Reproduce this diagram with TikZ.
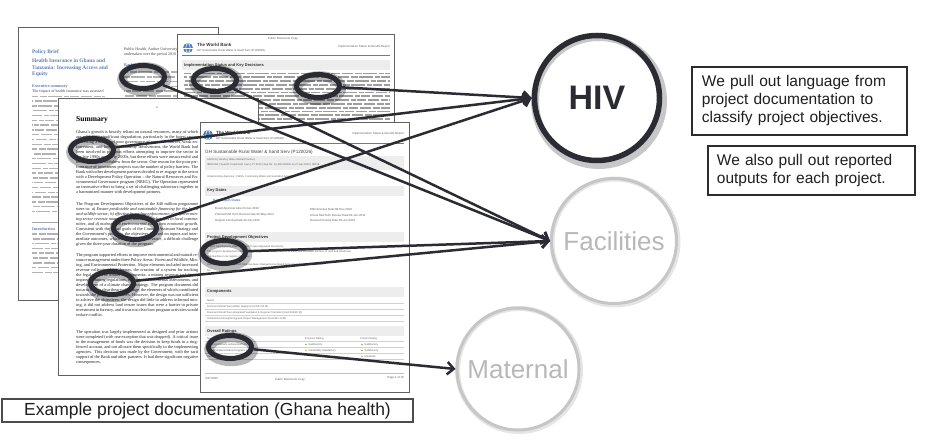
\documentclass[tikz,border=0pt]{standalone}
\usepackage{fontspec}
\setmainfont{Liberation Serif}
\setsansfont{Liberation Sans}
\usetikzlibrary{shapes.geometric,arrows.meta}
\definecolor{ink}{HTML}{2B2B33}
\definecolor{pbblue}{HTML}{5B7DB1}
\definecolor{wbblue}{HTML}{4F81BD}
\definecolor{ringgray}{HTML}{C6C6C6}
\definecolor{labgray}{HTML}{B8B8B8}
\definecolor{bandgray}{HTML}{EDEDED}
\definecolor{okgreen}{HTML}{7AB648}
\definecolor{modorange}{HTML}{E8A33D}
\tikzset{
  sheet/.style={draw=black!62, line width=0.8pt, fill=white},
  words/.style={line width=1.5pt, black!30, dash pattern=on 11pt off 1.6pt on 7pt off 1.6pt on 14pt off 1.6pt on 5pt off 1.6pt on 9pt off 1.6pt},
  dense/.style={words, line width=1.8pt, black!38},
  tiny/.style={anchor=west, inner sep=0pt, font=\sffamily\fontsize{2.9}{3.4}\selectfont, text=black!62},
  tinyb/.style={anchor=west, inner sep=0pt, font=\sffamily\bfseries\fontsize{4}{4.6}\selectfont, text=black!80},
  sm/.style={anchor=west, inner sep=0pt, font=\sffamily\fontsize{2.6}{3}\selectfont, text=black!62},
  serifsm/.style={anchor=west, inner sep=0pt, font=\fontsize{4}{5}\selectfont, text=black!75},
  bluehead/.style={anchor=west, inner sep=0pt, font=\bfseries\fontsize{4.2}{5}\selectfont, text=pbblue},
  band/.style={fill=bandgray, draw=none},
  para/.style={anchor=north west, inner sep=0pt, text width=122pt, align=justify, font=\fontsize{4.3}{5.05}\selectfont, text=black!88},
  hl/.style={ellipse, draw=ink, line width=5pt, minimum width=43pt, minimum height=23pt, inner sep=0pt},
  hlshadow/.style={draw=black, opacity=0.28, line width=10pt},
  arr/.style={draw=ink, line width=2.5pt, -{Straight Barb[length=6.5pt,width=12.5pt]}},
  topic/.style={circle, minimum size=125pt, inner sep=0pt, font=\sffamily\fontsize{26}{26}\selectfont},
  note/.style={draw=ink, line width=1.8pt, anchor=north west, align=left, font=\sffamily\fontsize{15.5}{18}\selectfont, text=black!88},
}
\newcommand\wbglobe[2]{%
  \fill[wbblue] (#1,#2) circle[radius=5pt];
  \draw[white, line width=0.5pt] (#1,#2) ellipse[x radius=2.2pt, y radius=4.6pt];
  \draw[white, line width=0.5pt] (#1-4.6,#2) -- (#1+4.6,#2);
}
\newcommand\hlmark[3]{%
  \draw[hlshadow] (#2+1.2,#3+2.2) ellipse[x radius=22pt, y radius=12pt];
  \node[hl] (#1) at (#2,#3) {};
}
\begin{document}
\begin{tikzpicture}[x=1pt, y=-1pt]
\useasboundingbox[fill=white] (0,0) rectangle (925,441);

% ---------- page 1: policy brief ----------
\draw[sheet] (18,27) rectangle (218,300);
\node[anchor=west, inner sep=0pt, font=\bfseries\fontsize{5.3}{6}\selectfont, text=pbblue] (pbA) at (32,52) {Policy Brief};
\node[anchor=north west, inner sep=0pt, align=left, font=\bfseries\fontsize{5.4}{6.5}\selectfont, text=pbblue] (pbB) at (32,59) {Health Insurance in Ghana and\\Tanzania: Increasing Access and\\Equity};
\node[bluehead] (pbC) at (32,86) {Executive summary};
\node[serifsm] (pbD) at (32,91.5) {The impact of health insurance was assessed};
\foreach \y [count=\i] in {96.3,101.1,...,216} \draw[words, dash phase=\i*5pt] (32,\y) -- (105,\y);
\draw[black!35, line width=0.6pt] (32,222) -- (105,222);
\node[bluehead] (pbE) at (32,229) {Introduction};
\foreach \y [count=\i] in {234,238.8,...,273} \draw[words, dash phase=\i*6pt] (32,\y) -- (105,\y);
\node[serifsm] (pbF) at (124,50) {Public Health, Author University};
\node[serifsm] (pbG) at (124,55) {undertaken over the period 2010};
\node[bluehead] (pbH) at (124,66) {Background};
\foreach \y [count=\i] in {72,76.8,...,97} \draw[words, dash phase=\i*7pt] (124,\y) -- (214,\y);

% ---------- page 2: World Bank (back) ----------
\draw[sheet] (177,34) rectangle (394,125);
\node[tiny, anchor=center] (p2a) at (283,39) {Public Disclosure Copy};
\wbglobe{188}{48}
\node[tinyb, font=\sffamily\bfseries\fontsize{4.5}{5}\selectfont] (p2b) at (197,45) {The World Bank};
\node[tiny] (p2c) at (197,50.5) {GH Sustainable Rural Water \& Sanit Serv (P120026)};
\node[tiny, anchor=east] (p2d) at (390,47) {Implementation Status \& Results Report};
\draw[wbblue, line width=1pt] (182,56) -- (390,56);
\fill[band] (182,60) rectangle (390,70);
\node[tinyb] (p2e) at (184,65) {Implementation Status and Key Decisions};
\foreach \y [count=\i] in {73.5,77.3,...,123} \draw[dense, dash phase=\i*4pt] (184,\y) -- (390,\y);

% ---------- page 3: Summary ----------
\draw[sheet] (58,98) rectangle (258,375);
\node[tiny, anchor=center] (p3a) at (157,107) {ix};
\node[anchor=west, inner sep=0pt, font=\bfseries\fontsize{7.5}{8}\selectfont] (p3b) at (76,120) {Summary};
\node[para] (p3c) at (76,130) {Ghana's growth is heavily reliant on natural resources, many of which are subject to significant degradation, particularly in the forest sector. Reflecting a history of poor governance of natural resources, weak enforcement, and limited community involvement, the World Bank had been involved in previous efforts attempting to improve the sector in the late 1990s and early 2000s, but these efforts were unsuccessful and the World Bank withdrew from the sector. One reason for the poor performance of investment projects was the number of policy barriers. The Bank with other development partners decided to re-engage in the sector with a Development Policy Operation -- the Natural Resources and Environmental Governance program (NREG). The Operation represented an innovative effort to bring a set of challenging subsectors together in a harmonized manner with development partners.};
\node[para] (p3d) at (76,202) {The Program Development Objectives of the \$40 million programme were to: \emph{a) Ensure predictable and sustainable financing for the forest and wildlife sector; b) effective forest law enforcement; c) improve mining sector revenue management, and increase benefits to local communities, and d) mainstream environmental issues into economic growth.} Consistent with the broad goals of the Country Assistant Strategy and the Government's program, the objectives focused on inputs and intermediate outcomes, which reduced their relevance, a difficult challenge given the three-year duration of the program.};
\node[para] (p3e) at (76,253) {The program supported efforts to improve environmental and natural resource management under three Policy Areas: Forest and Wildlife, Mining, and Environmental Protection. Major elements included increased revenue collection from forests, the creation of a system for tracking the legal origin of timber consignments, a mining revenue task force, improved mining regulations, strategic environmental assessments, and development of a climate change strategy. The program document did not articulate a clear theory of change, the elements of which contributed towards the program objectives. However, the design was not sufficient to achieve the objectives: the design did little to address informal mining, it did not address land tenure issues that were a barrier to private investment in forestry, and it was not clear how program activities would reduce conflict.};
\node[para] (p3f) at (76,330) {The operation was largely implemented as designed and prior actions were completed (with one exception that was dropped). A critical issue in the management of funds was the decision to keep funds in a ring-fenced account, and not allocate them specifically to the implementing agencies. This decision was made by the Government, with the tacit support of the Bank and other partners. It had three significant negative consequences.};

% ---------- page 4: World Bank (front) ----------
\draw[sheet] (200,122) rectangle (409,392);
\wbglobe{208}{135}
\node[tinyb, font=\sffamily\bfseries\fontsize{4.5}{5}\selectfont] (p4a) at (216,132.5) {The World Bank};
\node[tiny] (p4b) at (216,138.5) {GH Sustainable Rural Water \& Sanit Serv (P120026)};
\node[tiny, anchor=east] (p4c) at (404,134) {Implementation Status \& Results Report};
\draw[wbblue, line width=1pt] (205,143) -- (404,143);
\node[anchor=west, inner sep=0pt, font=\sffamily\fontsize{4.6}{5}\selectfont, text=black!75] (p4d) at (205,152) {GH Sustainable Rural Water \& Sanit Serv (P120026)};
\fill[band] (205,156) rectangle (404,170);
\node[sm] (p4e) at (207,160) {AFRICA | Ghana | Water Global Practice |};
\node[sm] (p4f) at (207,165) {IBRD/IDA | Specific Investment Loan | FY 2010 | Seq No: 8 | ARCHIVED on 27-Apr-2015 | ISR18};
\node[sm] (p4g) at (207,177) {Implementing Agencies: CWSA, Community Water and Sanitation Agency};
\fill[band] (205,186) rectangle (404,196);
\node[tinyb] (p4h) at (207,191) {Key Dates};
\node[tiny, font=\sffamily\bfseries\fontsize{3.2}{3.6}\selectfont, text=wbblue] (p4i) at (213,201) {Key Project Dates};
\node[tiny] (p4j) at (215,209) {Board Approval date:23-Jun-2010};
\node[tiny] (p4k) at (310,209) {Effectiveness Date:08-Dec-2010};
\node[tiny] (p4l) at (215,215) {Planned Mid Term Review Date:20-May-2014};
\node[tiny] (p4m) at (310,215) {Actual Mid-Term Review Date:04-Jun-2014};
\node[tiny] (p4n) at (215,221) {Original Closing Date:30-Jun-2016};
\node[tiny] (p4o) at (310,221) {Revised Closing Date:30-Jun-2016};
\fill[band] (205,232) rectangle (404,242);
\node[tinyb] (p4p) at (207,237) {Project Development Objectives};
\node[sm] (p4q) at (207,246.5) {Project Development Objective (from Project Appraisal Document)};
\node[sm] (p4r) at (207,251.5) {The project's development objective is to increase sustainable access to water and sanitation services in rural and small town};
\node[sm] (p4s) at (207,256.5) {communities in six regions of Ghana.};
\node[sm] (p4t) at (207,265) {Has the Project Development Objective been changed since Board Approval of the Project Objective?};
\node[sm] (p4u) at (207,270.5) {No};
\fill[band] (205,287) rectangle (404,297);
\node[tinyb] (p4v) at (207,292) {Components};
\node[sm] (p4w) at (207,301) {Name};
\foreach \y in {303.5,309.5,315.5,321.5} \draw[black!18, line width=0.4pt] (205,\y) -- (404,\y);
\node[sm] (p4x) at (207,306.5) {Rural and Small Town Water Supply:(Cost \$47.60 M)};
\node[sm] (p4y) at (207,312.5) {Rural and Small Town Integrated Sanitation \& Hygiene Promotion:(Cost \$18.80 M)};
\node[sm] (p4z) at (207,318.5) {Institutional Strengthening and Project Management:(Cost \$11.10 M)};
\fill[band] (205,326) rectangle (404,336);
\node[tinyb] (p4A) at (207,331) {Overall Ratings};
\node[sm] (p4B) at (207,338.5) {Name};
\node[sm] (p4C) at (305,338.5) {Previous Rating};
\node[sm] (p4D) at (360,338.5) {Current Rating};
\foreach \y in {341.5,347.5,353.5,359.5} \draw[black!18, line width=0.4pt] (205,\y) -- (404,\y);
\node[sm] (p4E) at (207,344.5) {Progress towards achievement of PDO};
\node[sm] (p4F) at (207,350.5) {Overall Implementation Progress (IP)};
\node[sm] (p4G) at (207,356.5) {Overall Risk Rating};
\fill[okgreen] (306,344.5) circle[radius=0.9pt];
\node[sm] (p4H) at (308.5,344.5) {Satisfactory};
\fill[okgreen] (362,344.5) circle[radius=0.9pt];
\node[sm] (p4I) at (364.5,344.5) {Satisfactory};
\fill[modorange] (306,350.5) circle[radius=0.9pt];
\node[sm] (p4J) at (308.5,350.5) {Moderately Satisfactory};
\fill[okgreen] (362,350.5) circle[radius=0.9pt];
\node[sm] (p4K) at (364.5,350.5) {Satisfactory};
\node[sm] (p4L) at (308.5,356.5) {--};
\fill[modorange] (362,356.5) circle[radius=0.9pt];
\node[sm] (p4M) at (364.5,356.5) {Moderate};
\draw[black!25, line width=0.4pt] (205,373) -- (404,373);
\node[tiny] (p4N) at (205,378) {4/27/2015};
\node[tiny, anchor=center] (p4O) at (290,380) {Public Disclosure Copy};
\node[tiny, anchor=east] (p4P) at (404,378) {Page 1 of 10};

% ---------- highlight marks ----------
\hlmark{e1}{143}{77}
\hlmark{e2}{215}{80}
\hlmark{e3}{318}{86}
\hlmark{e4}{92}{150}
\hlmark{e5}{135}{228}
\hlmark{e6}{112}{283}
\hlmark{e7}{224}{252}
\hlmark{e8}{230}{347}

% ---------- topic circles ----------
\draw[black, opacity=0.22, line width=8pt] (599,101) circle[radius=64pt];
\node[topic, draw=ink, line width=5.5pt, text=ink, font=\sffamily\bfseries\fontsize{34}{34}\selectfont] (hiv) at (597,98) {HIV};
\draw[black, opacity=0.10, line width=5pt] (615,242) circle[radius=63pt];
\node[topic, draw=ringgray, line width=3pt, text=labgray] (fac) at (614,241) {Facilities};
\draw[black, opacity=0.10, line width=5pt] (519,370) circle[radius=61.5pt];
\node[topic, minimum size=122pt, draw=ringgray, line width=3pt, text=labgray] (mat) at (518,369) {Maternal};

% ---------- notes ----------
\node[note, text width=195pt, inner xsep=10pt, minimum height=68pt] (n1) at (691,66) {We pull out language from\\project documentation to\\classify project objectives.};
\node[note, text width=189pt, inner xsep=9pt, minimum height=49pt] (n2) at (707,145) {We also pull out reported\\outputs for each project.};
\node[draw=black!70, line width=1.1pt, minimum width=411pt, minimum height=23pt, inner sep=0pt, font=\sffamily\fontsize{17.5}{20}\selectfont, text=black!88] (cap) at (207.5,410.5) {Example project documentation (Ghana health)};

% ---------- connectors ----------
\draw[arr] (e1) -- (fac.west);
\draw[arr] (e2) -- (fac.west);
\draw[arr] (e6) -- (fac.west);
\draw[arr] (e7) -- (fac.west);
\draw[arr] (e3) -- (hiv.west);
\draw[arr] (e4) -- (hiv.west);
\draw[arr] (e5) -- (hiv.west);
\draw[arr] (e8) -- (mat.west);
\end{tikzpicture}
\end{document}
